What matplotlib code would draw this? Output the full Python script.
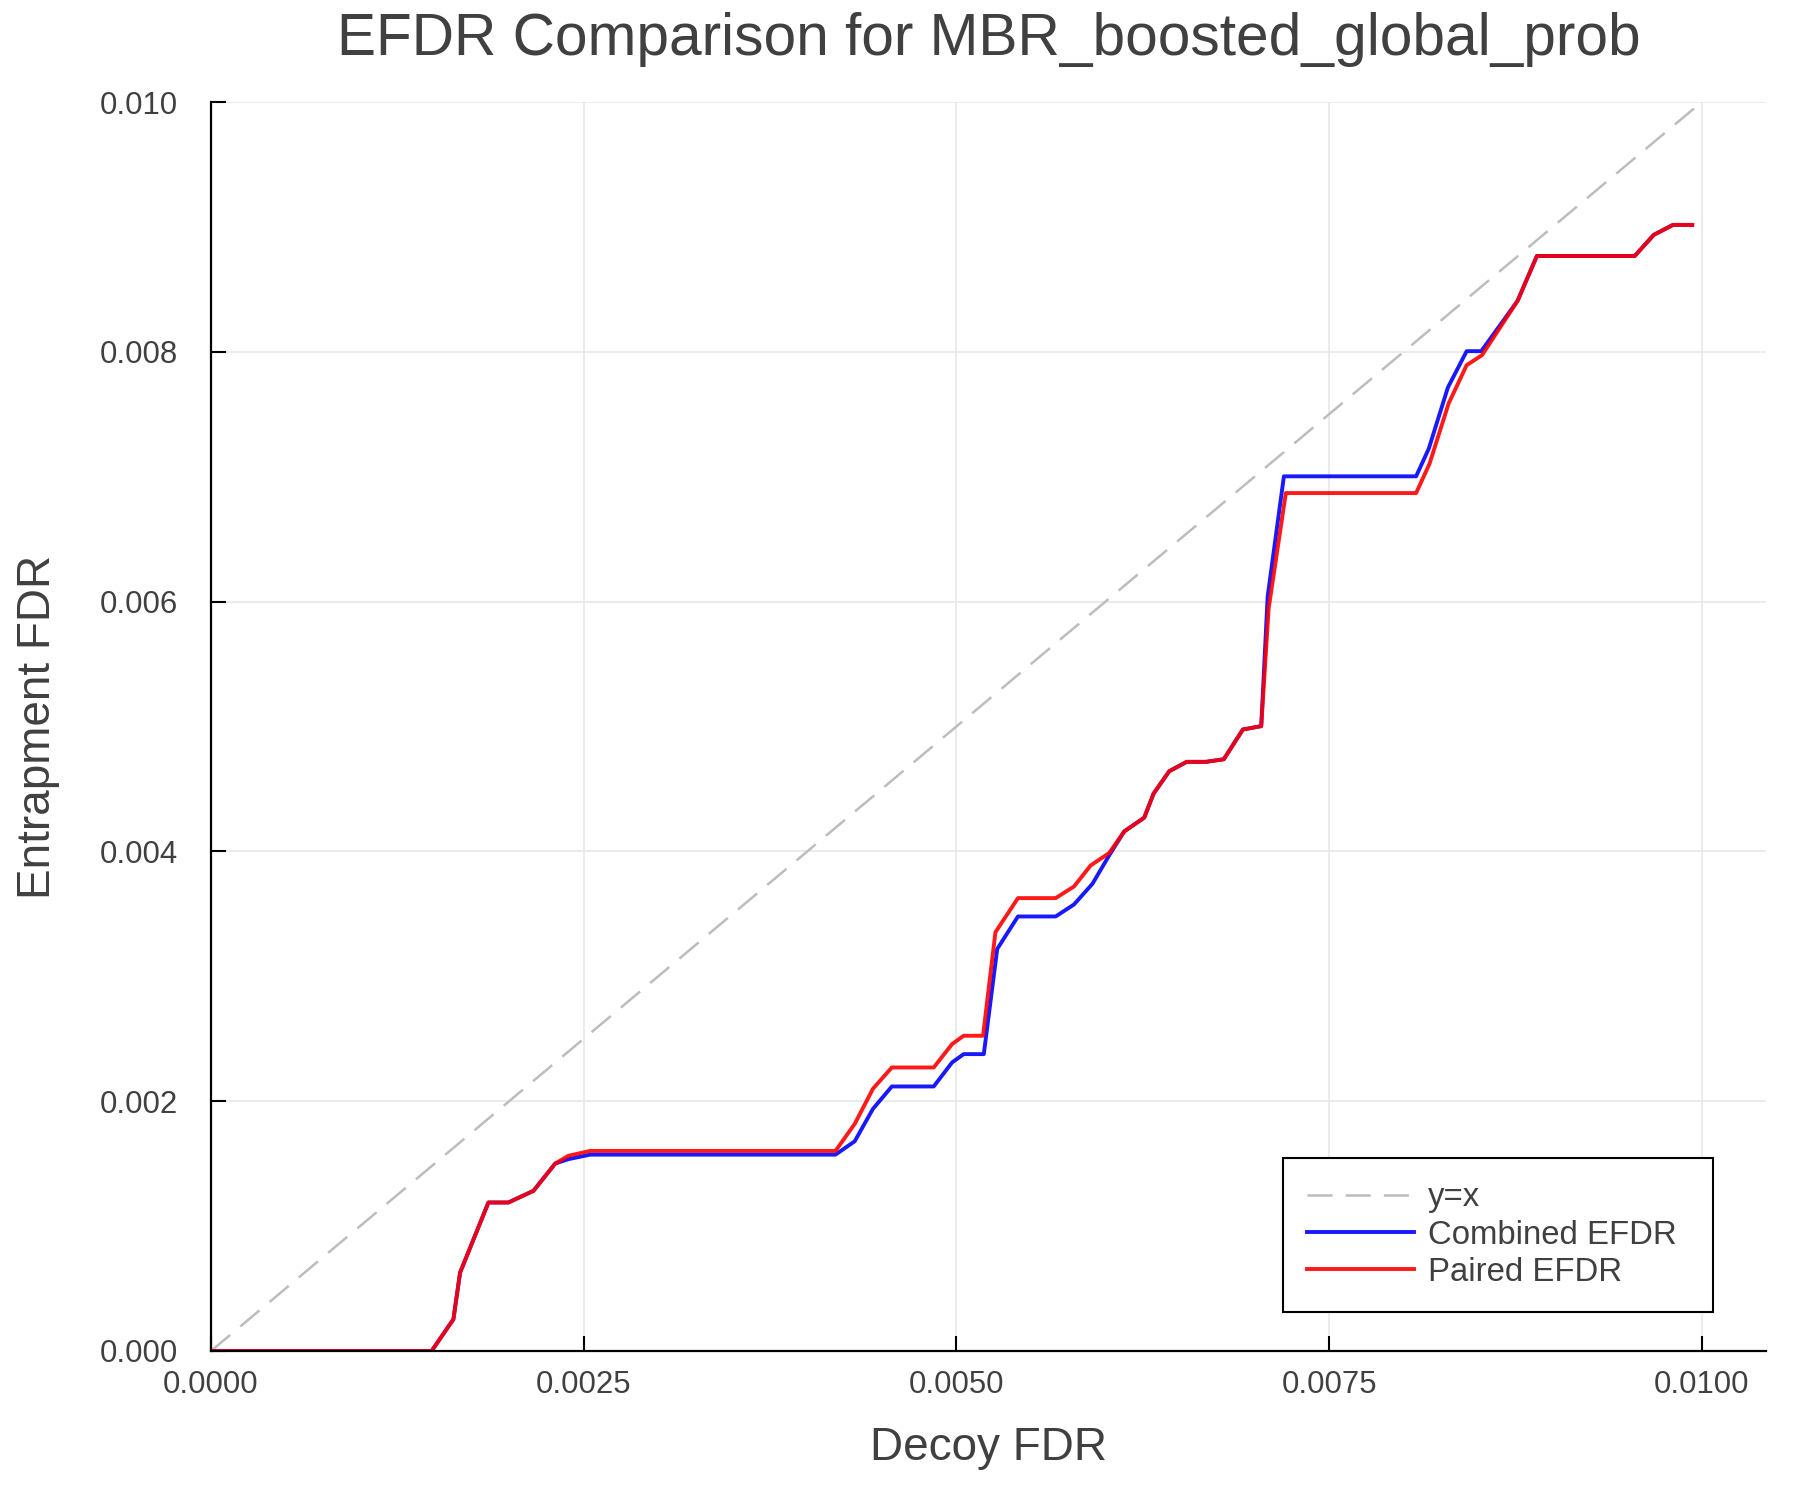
import matplotlib
matplotlib.use("Agg")
import matplotlib.pyplot as plt

# y = x reference
diag_x = [0.0, 0.01]
diag_y = [0.0, 0.01]

# Combined EFDR (blue)
combined_x = [0.0, 0.00148, 0.001626, 0.001671, 0.001861, 0.001995, 0.002163, 0.002309,
              0.002398, 0.002543, 0.004189, 0.004318, 0.00444, 0.004567, 0.004848, 0.004971,
              0.005049, 0.005184, 0.005274, 0.005413, 0.005666, 0.005789, 0.005913, 0.006025,
              0.006126, 0.00626, 0.006323, 0.006428, 0.006545, 0.006675, 0.006794, 0.006922,
              0.007045, 0.007088, 0.007197, 0.008084, 0.008169, 0.008297, 0.008423, 0.008521,
              0.008765, 0.008894, 0.00955, 0.009678, 0.009807, 0.009936]
combined_y = [0.0, 0.0, 0.000254, 0.000628, 0.001189, 0.001189, 0.001282, 0.001501,
              0.001536, 0.001572, 0.001572, 0.001679, 0.001938, 0.002118, 0.002118, 0.00231,
              0.002377, 0.002377, 0.003219, 0.003479, 0.003479, 0.003575, 0.003741, 0.003968,
              0.00416, 0.00427, 0.004463, 0.004642, 0.004717, 0.004717, 0.004738, 0.004976,
              0.005003, 0.00604, 0.007003, 0.007003, 0.007225, 0.007714, 0.008005, 0.008005,
              0.008409, 0.008767, 0.008767, 0.008936, 0.009016, 0.009016]

# Paired EFDR (red)
paired_x = [0.0, 0.00148, 0.001626, 0.001671, 0.001861, 0.001995, 0.002163, 0.002309,
            0.002398, 0.002543, 0.004189, 0.004318, 0.00444, 0.004567, 0.004848, 0.004971,
            0.005049, 0.005179, 0.005262, 0.005413, 0.005666, 0.005789, 0.005901, 0.006025,
            0.006126, 0.00626, 0.006323, 0.006428, 0.006545, 0.006675, 0.006794, 0.006922,
            0.007045, 0.007095, 0.00721, 0.008084, 0.008174, 0.008302, 0.008423, 0.008526,
            0.008765, 0.008894, 0.00955, 0.009678, 0.009807, 0.009936]
paired_y = [0.0, 0.0, 0.000254, 0.000628, 0.001189, 0.001189, 0.001282, 0.001501,
            0.001563, 0.001602, 0.001602, 0.001818, 0.002099, 0.00227, 0.00227, 0.002457,
            0.002524, 0.002524, 0.003353, 0.003626, 0.003626, 0.003719, 0.003888, 0.003987,
            0.00416, 0.00427, 0.004463, 0.004642, 0.004717, 0.004717, 0.004738, 0.004976,
            0.005003, 0.005947, 0.006869, 0.006869, 0.007104, 0.007586, 0.007893, 0.007973,
            0.008409, 0.008767, 0.008767, 0.008936, 0.009016, 0.009016]

x_ticks = [0.0, 0.0025, 0.005, 0.0075, 0.01]
x_tick_labels = ["0.0000", "0.0025", "0.0050", "0.0075", "0.0100"]
y_ticks = [0.0, 0.002, 0.004, 0.006, 0.008, 0.010]
y_tick_labels = ["0.000", "0.002", "0.004", "0.006", "0.008", "0.010"]

plt.rcParams['font.family'] = ['Liberation Sans', 'DejaVu Sans']
plt.rcParams['lines.scale_dashes'] = False
txt = '#404040'

fig = plt.figure(figsize=(18, 15), dpi=100)
ax = fig.add_axes([211 / 1800, 1 - 1351 / 1500, (1766 - 211) / 1800, (1351 - 102) / 1500])

ax.plot(diag_x, diag_y, color='#bdbdbd', lw=1.8, dashes=(18, 9.5), label='y=x')
ax.plot(combined_x, combined_y, color=(0, 0, 1), alpha=0.9, lw=2.8, label='Combined EFDR')
ax.plot(paired_x, paired_y, color=(1, 0, 0), alpha=0.9, lw=2.8, label='Paired EFDR')

ax.set_xlim(0, 0.010431)
ax.set_ylim(0, 0.010)
ax.set_xticks(x_ticks)
ax.set_xticklabels(x_tick_labels)
ax.set_yticks(y_ticks)
ax.set_yticklabels(y_tick_labels)

ax.grid(True, color='#e6e6e6', lw=1.1)
ax.set_axisbelow(True)
for s in ['top', 'right']:
    ax.spines[s].set_visible(False)
for s in ['left', 'bottom']:
    ax.spines[s].set_linewidth(1.6)
    ax.spines[s].set_color('black')

ax.tick_params(axis='both', direction='in', length=10.8, width=1.5, color='black',
               labelsize=22.4, labelcolor=txt)
ax.tick_params(axis='x', pad=14)
ax.tick_params(axis='y', pad=24)

fig.text(988.5 / 1800, 1 - 55 / 1500, 'EFDR Comparison for MBR_boosted_global_prob',
         ha='center', va='baseline', fontsize=42.2, color=txt)
fig.text(988.5 / 1800, 1 - 1460 / 1500, 'Decoy FDR', ha='center', va='baseline',
         fontsize=33, color=txt)
fig.text(38 / 1800, 1 - 727 / 1500, 'Entrapment FDR', ha='center', va='center',
         rotation=90, fontsize=33, color=txt)

leg = ax.legend(loc='upper left', mode='expand',
                bbox_to_anchor=(1283 / 1800, 1 - 1158 / 1500, 430 / 1800, 0.0),
                bbox_transform=fig.transFigure, borderaxespad=0, fancybox=False,
                framealpha=1, edgecolor='black', fontsize=23.7, handlelength=3.25,
                handletextpad=0.4, borderpad=0.74, labelspacing=0.19)
leg.get_frame().set_linewidth(1.5)
for t in leg.get_texts():
    t.set_color(txt)

fig.savefig('out.png', dpi=100)
